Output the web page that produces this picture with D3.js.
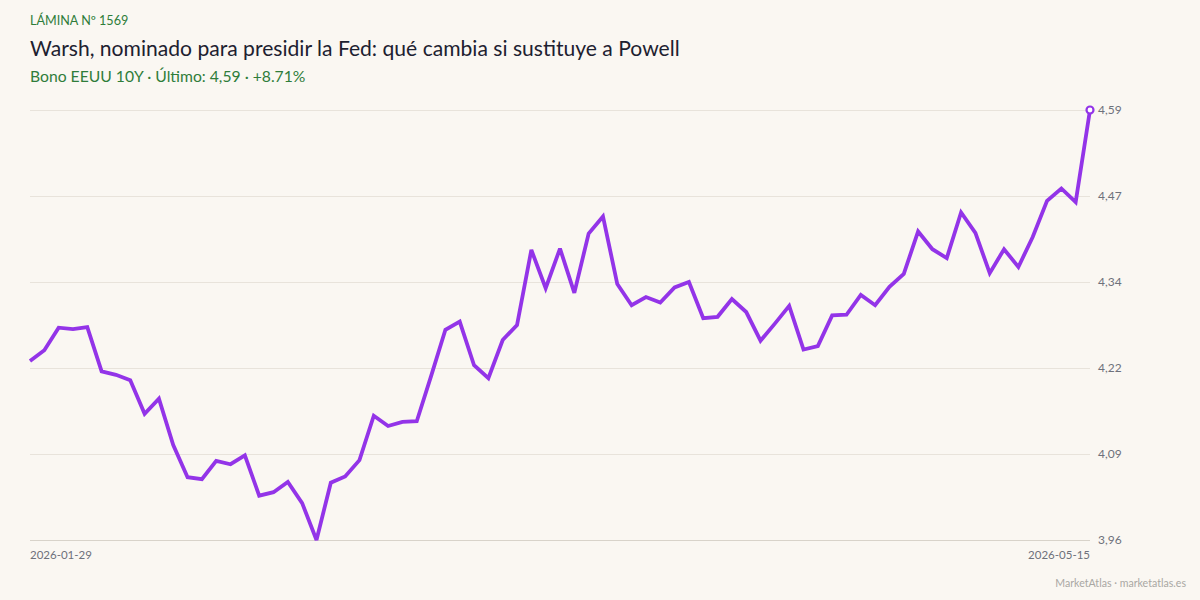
<!DOCTYPE html>
<html>
<head>
<meta charset="utf-8">
<script src="https://cdn.jsdelivr.net/npm/d3@7"></script>
<style>
	html, body { margin: 0; padding: 0; background: #faf7f2; }
	svg { display: block; font-family: Lato, "Open Sans", sans-serif; }
</style>
</head>
<body>
<div id="chart"></div>
<script>
// trading days, 2026-01-29 .. 2026-05-15
var dates = [
	"2026-01-29", "2026-01-30",
	"2026-02-02", "2026-02-03", "2026-02-04", "2026-02-05", "2026-02-06",
	"2026-02-09", "2026-02-10", "2026-02-11", "2026-02-12", "2026-02-13",
	"2026-02-17", "2026-02-18", "2026-02-19", "2026-02-20",
	"2026-02-23", "2026-02-24", "2026-02-25", "2026-02-26", "2026-02-27",
	"2026-03-02", "2026-03-03", "2026-03-04", "2026-03-05", "2026-03-06",
	"2026-03-09", "2026-03-10", "2026-03-11", "2026-03-12", "2026-03-13",
	"2026-03-16", "2026-03-17", "2026-03-18", "2026-03-19", "2026-03-20",
	"2026-03-23", "2026-03-24", "2026-03-25", "2026-03-26", "2026-03-27",
	"2026-03-30", "2026-03-31",
	"2026-04-01", "2026-04-02",
	"2026-04-06", "2026-04-07", "2026-04-08", "2026-04-09", "2026-04-10",
	"2026-04-13", "2026-04-14", "2026-04-15", "2026-04-16", "2026-04-17",
	"2026-04-20", "2026-04-21", "2026-04-22", "2026-04-23", "2026-04-24",
	"2026-04-27", "2026-04-28", "2026-04-29", "2026-04-30",
	"2026-05-01",
	"2026-05-04", "2026-05-05", "2026-05-06", "2026-05-07", "2026-05-08",
	"2026-05-11", "2026-05-12", "2026-05-13", "2026-05-14", "2026-05-15"
];

// Bono EEUU 10Y, rendimiento (%)
var yields = [
	4.2223, 4.238, 4.271, 4.269, 4.272, 4.207, 4.202, 4.194, 4.145, 4.167,
	4.099, 4.052, 4.049, 4.076, 4.071, 4.084, 4.025, 4.030, 4.045, 4.014,
	3.960, 4.044, 4.053, 4.077, 4.142, 4.127, 4.133, 4.134, 4.200, 4.268,
	4.280, 4.216, 4.197, 4.253, 4.275, 4.385, 4.329, 4.387, 4.322, 4.409,
	4.434, 4.335, 4.304, 4.316, 4.308, 4.330, 4.338, 4.285, 4.287, 4.313,
	4.294, 4.252, 4.277, 4.303, 4.239, 4.244, 4.289, 4.290, 4.319, 4.304,
	4.331, 4.350, 4.412, 4.386, 4.373, 4.440, 4.410, 4.351, 4.386, 4.360,
	4.404, 4.457, 4.475, 4.455, 4.590
];

var yTickLabels = ["3,96", "4,09", "4,22", "4,34", "4,47", "4,59"];
var xTickLabels = ["2026-01-29", "2026-05-15"];

var width = 1200, height = 600;
var margin = {top: 110, right: 110, bottom: 60, left: 30};
var innerW = width - margin.left - margin.right,
	innerH = height - margin.top - margin.bottom;

var data = dates.map(function(d, i) { return {date: d, value: yields[i]}; });

var svg = d3.select("#chart").append("svg")
	.attr("width", width)
	.attr("height", height);

svg.append("rect")
	.attr("width", width)
	.attr("height", height)
	.attr("fill", "#faf7f2");

// header
svg.append("text")
	.attr("x", 30).attr("y", 25)
	.attr("fill", "#2f7d3a")
	.style("font-size", "12.6px")
	.text("LÁMINA Nº 1569");

svg.append("text")
	.attr("x", 30).attr("y", 56)
	.attr("fill", "#1d2130")
	.style("font-size", "21.1px")
	.text("Warsh, nominado para presidir la Fed: qué cambia si sustituye a Powell");

var first = yields[0], last = yields[yields.length - 1];
var change = (last / first - 1) * 100;
svg.append("text")
	.attr("x", 30).attr("y", 82)
	.attr("fill", "#2f7d3a")
	.style("font-size", "15.7px")
	.text("Bono EEUU 10Y · Último: " + d3.format(".2f")(last).replace(".", ",") +
		" · " + (change >= 0 ? "+" : "") + d3.format(".2f")(change) + "%");

var g = svg.append("g")
	.attr("transform", "translate(" + margin.left + "," + margin.top + ")");

var x = d3.scalePoint()
	.domain(dates)
	.range([0, innerW]);

var y = d3.scaleLinear()
	.domain(d3.extent(yields))
	.range([innerH, 0]);

var yd = y.domain();
var tickVals = yTickLabels.map(function(l, i) {
	return yd[0] + i * (yd[1] - yd[0]) / (yTickLabels.length - 1);
});

var yAxis = d3.axisRight(y)
	.tickValues(tickVals)
	.tickSize(innerW)
	.tickPadding(8)
	.tickFormat(function(d, i) { return yTickLabels[i]; });

var ya = g.append("g")
	.attr("class", "y axis")
	.call(yAxis);
ya.select(".domain").remove();
ya.selectAll(".tick line")
	.attr("stroke", function(d, i) { return i === 0 ? "#d8d3ca" : "#e8e3db"; })
	.attr("stroke-width", 1);
ya.selectAll(".tick text")
	.attr("fill", "#6e717b")
	.style("font-size", "12px")
	.style("font-family", "Lato, sans-serif");

// x labels, first and last date
g.append("text")
	.attr("x", x(xTickLabels[0])).attr("y", innerH + 19)
	.attr("fill", "#6e717b")
	.style("font-size", "11.5px")
	.text(xTickLabels[0]);
g.append("text")
	.attr("x", x(xTickLabels[1])).attr("y", innerH + 19)
	.attr("text-anchor", "end")
	.attr("fill", "#6e717b")
	.style("font-size", "11.5px")
	.text(xTickLabels[1]);

var line = d3.line()
	.x(function(d) { return x(d.date); })
	.y(function(d) { return y(d.value); });

g.append("path")
	.datum(data)
	.attr("fill", "none")
	.attr("stroke", "#9334e8")
	.attr("stroke-width", 3.8)
	.attr("stroke-linejoin", "miter")
	.attr("stroke-miterlimit", 3)
	.attr("d", line);

var end = data[data.length - 1];
g.append("circle")
	.attr("cx", x(end.date))
	.attr("cy", y(end.value))
	.attr("r", 3.5)
	.attr("fill", "#ffffff")
	.attr("stroke", "#9334e8")
	.attr("stroke-width", 2.2);

svg.append("text")
	.attr("x", 1186).attr("y", 587)
	.attr("text-anchor", "end")
	.attr("fill", "#a9a7a3")
	.style("font-size", "10.6px")
	.text("MarketAtlas · marketatlas.es");
</script>
</body>
</html>
